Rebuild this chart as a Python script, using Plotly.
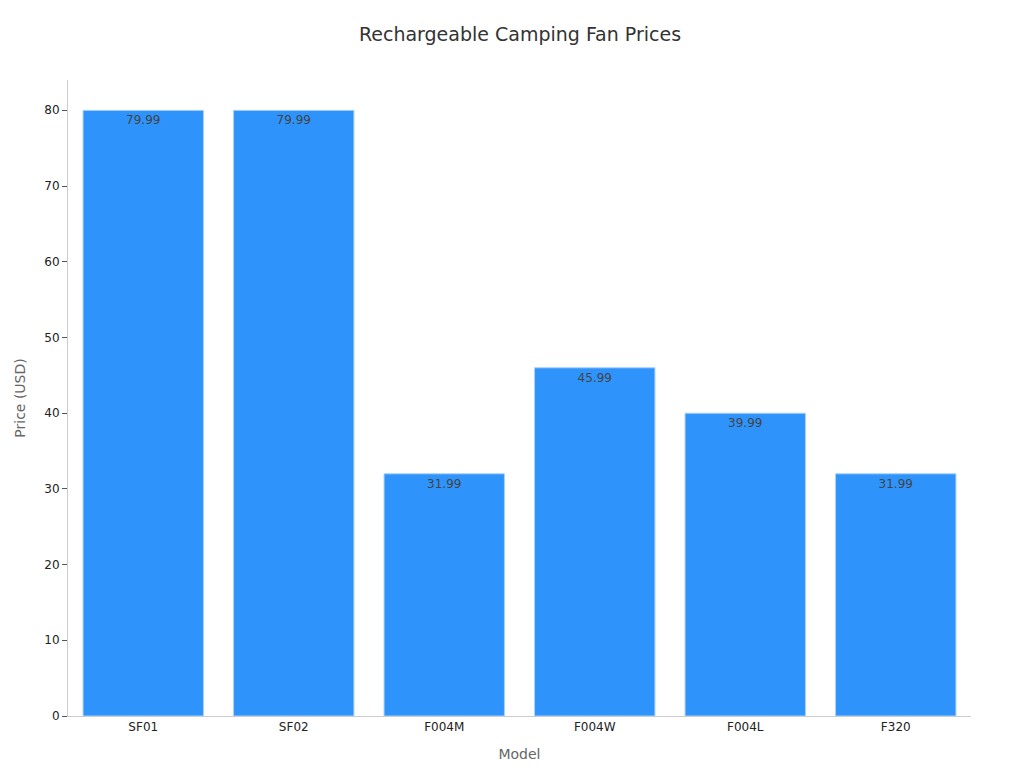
import plotly.graph_objects as go

models = ["SF01", "SF02", "F004M", "F004W", "F004L", "F320"]
prices = [79.99, 79.99, 31.99, 45.99, 39.99, 31.99]
price_labels = ["79.99", "79.99", "31.99", "45.99", "39.99", "31.99"]

fig = go.Figure(go.Bar(
    x=models, y=prices, text=price_labels, textposition="inside",
    insidetextanchor="end", textfont=dict(color="#444", size=12),
    marker=dict(color="#2E93FA", line=dict(color="#a8d0f8", width=1)),
))

fig.update_layout(
    title=dict(text="Rechargeable Camping Fan Prices", x=0.5, y=0.975,
               font=dict(size=19, color="#333")),
    font=dict(family="DejaVu Sans", size=12, color="#222"),
    width=1024, height=768,
    plot_bgcolor="white", paper_bgcolor="white",
    margin=dict(l=52, r=61, t=72, b=60),
    bargap=0.2,
    showlegend=False,
)
fig.update_xaxes(title=dict(text="Model", font=dict(size=14, color="#666")),
                 showline=True, linecolor="#ccc", ticks="")
fig.update_yaxes(title=dict(text="Price (USD)", font=dict(size=14, color="#666")),
                 range=[0, 84], dtick=10, showgrid=False, showline=True,
                 linecolor="#ccc", ticks="outside", ticklen=5, tickcolor="#555",
                 zeroline=False)

fig.write_html("out.html")
